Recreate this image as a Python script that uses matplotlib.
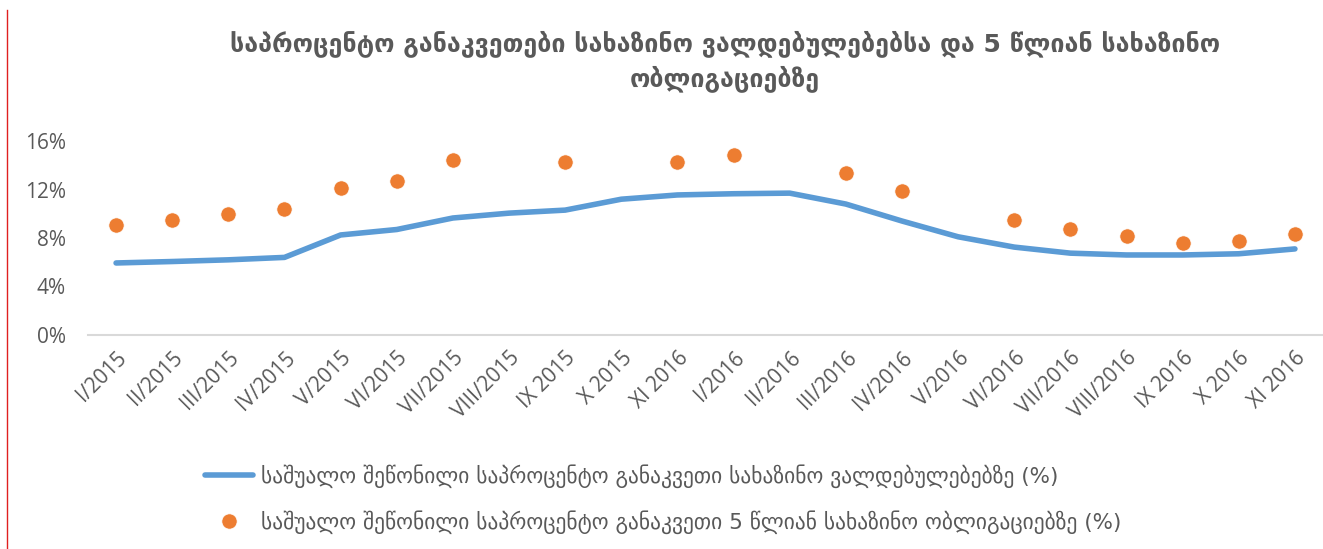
import matplotlib.pyplot as plt
from matplotlib.lines import Line2D
from matplotlib.ticker import PercentFormatter
import numpy as np

plt.rcParams['font.family'] = ['Open Sans', 'DejaVu Sans']

months = ['I/2015', 'II/2015', 'III/2015', 'IV/2015', 'V/2015', 'VI/2015',
          'VII/2015', 'VIII/2015', 'IX 2015', 'X 2015', 'XI 2016', 'I/2016',
          'II/2016', 'III/2016', 'IV/2016', 'V/2016', 'VI/2016', 'VII/2016',
          'VIII/2016', 'IX 2016', 'X 2016', 'XI 2016']

# weighted avg rate on treasury obligations (%)
bills = [5.94, 6.06, 6.2, 6.4, 8.25, 8.7, 9.65, 10.05, 10.3, 11.2, 11.55,
         11.65, 11.7, 10.8, 9.4, 8.1, 7.25, 6.75, 6.6, 6.6, 6.7, 7.1]
# 5-year treasury bonds (%), None = no auction
bonds = [9.07, 9.5, 10.0, 10.4, 12.1, 12.7, 14.4, None, 14.3, None, 14.3,
         14.85, None, 13.4, 11.9, None, 9.5, 8.75, 8.15, 7.6, 7.75, 8.35]

title = 'საპროცენტო განაკვეთები სახაზინო ვალდებულებებსა და 5 წლიან სახაზინო\nობლიგაციებზე'
lbl_bills = 'საშუალო შეწონილი საპროცენტო განაკვეთი სახაზინო ვალდებულებებზე (%)'
lbl_bonds = 'საშუალო შეწონილი საპროცენტო განაკვეთი 5 წლიან სახაზინო ობლიგაციებზე (%)'

grey = '#595959'
fig = plt.figure(figsize=(13.23, 5.49), dpi=100)
ax = fig.add_axes([88 / 1323, 1 - 335 / 549, 1 - 88 / 1323, 194 / 549])

x = np.arange(len(months))
bx = [i for i, v in zip(x, bonds) if v is not None]
by = [v for v in bonds if v is not None]

ax.plot(x, bills, color='#5b9bd5', lw=4, solid_capstyle='round', label=lbl_bills)
ax.plot(bx, by, 'o', color='#ed7d31', ms=11, mec='white', mew=0.5, label=lbl_bonds)

ax.set_xlim(-0.5, len(months) - 0.5)
ax.set_ylim(0, 16)
ax.set_yticks([0, 4, 8, 12, 16])
ax.yaxis.set_major_formatter(PercentFormatter(decimals=0))
ax.set_xticks(x)
ax.set_xticklabels(months, rotation=45, ha='right', rotation_mode='anchor')
ax.tick_params(axis='both', length=0, colors=grey, labelsize=15)
ax.tick_params(axis='x', pad=9)
ax.tick_params(axis='y', pad=16)
for s in ['top', 'right', 'left']:
    ax.spines[s].set_visible(False)
ax.spines['bottom'].set_color('#d9d9d9')
ax.spines['bottom'].set_linewidth(1.5)

fig.text(0.548, 0.945, title, ha='center', va='top', fontsize=18,
         fontweight='bold', color=grey, family=['DejaVu Sans'], linespacing=1.4)

fig.legend(loc='lower left', bbox_to_anchor=(186 / 1323, -0.008), frameon=False,
           labelcolor=grey, handlelength=2.2, handletextpad=0.4, labelspacing=1.05,
           prop={'family': ['DejaVu Sans'], 'size': 15.5})

fig.add_artist(Line2D([7 / 1323, 7 / 1323], [0, 1 - 10 / 549],
                      color='#e02020', lw=1, transform=fig.transFigure))

fig.savefig('out.png', dpi=100)
